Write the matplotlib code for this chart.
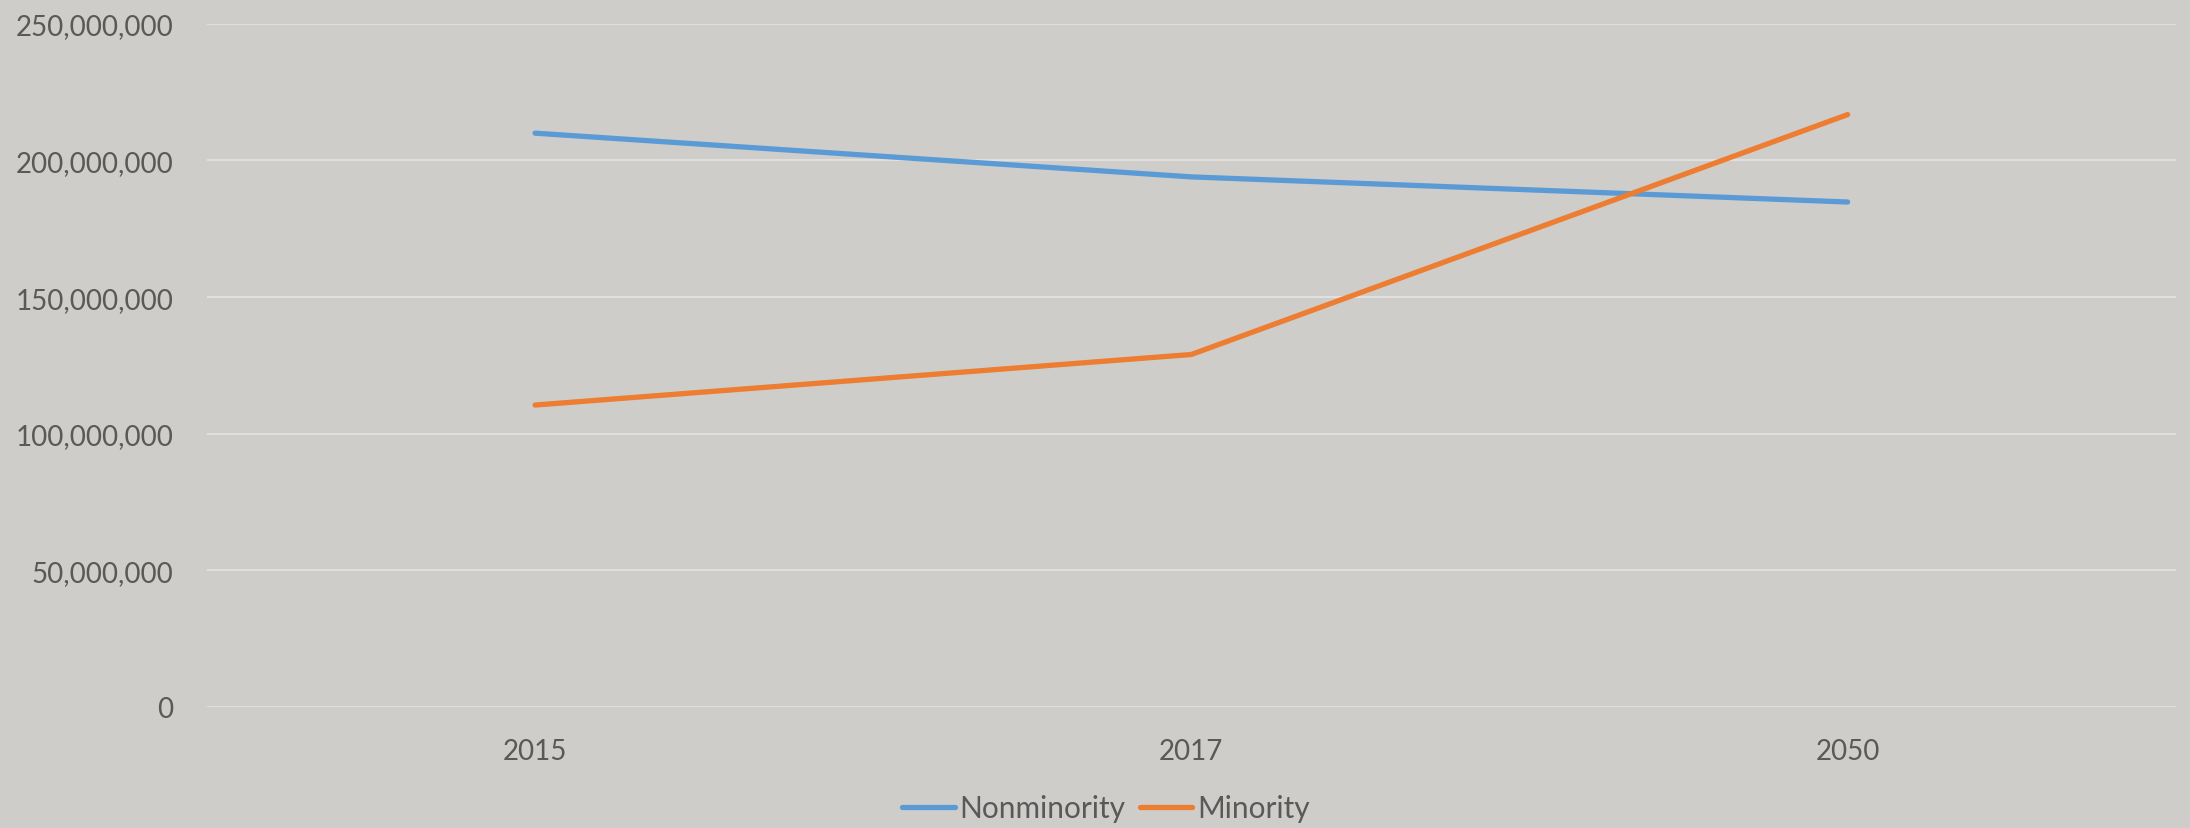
import matplotlib.pyplot as plt
from matplotlib.ticker import FuncFormatter

years = ['2015', '2017', '2050']
nonminority = [210_000_000, 194_000_000, 184_800_000]
minority = [110_500_000, 129_000_000, 216_800_000]

bg = '#cfcdca'
txt = '#595959'

plt.rcParams['font.family'] = ['Lato', 'DejaVu Sans']

fig = plt.figure(figsize=(21.9, 8.29), dpi=100, facecolor=bg)
ax = fig.add_axes([0.0945, 0.146, 0.899, 0.824])
ax.set_facecolor('none')

x = range(len(years))
ax.plot(x, nonminority, color='#5b9bd5', linewidth=3.8, solid_capstyle='round', label='Nonminority')
ax.plot(x, minority, color='#ed7d31', linewidth=3.8, solid_capstyle='round', label='Minority')

ax.set_xlim(-0.5, 2.5)
ax.set_ylim(0, 250_000_000)
ax.set_xticks(list(x))
ax.set_xticklabels(years)
ax.set_yticks(range(0, 250_000_001, 50_000_000))
ax.yaxis.set_major_formatter(FuncFormatter(lambda v, p: f'{int(v):,}'))

ax.grid(axis='y', color='#e2e0de', linewidth=1.5)
ax.set_axisbelow(True)
for s in ax.spines.values():
    s.set_visible(False)
ax.tick_params(axis='both', length=0, labelsize=20, labelcolor=txt)
ax.tick_params(axis='y', pad=24)
ax.tick_params(axis='x', pad=22)

fig.legend(loc='center', bbox_to_anchor=(0.505, 0.024), ncol=2, frameon=False,
           fontsize=21.5, labelcolor=txt, handlelength=1.75, handletextpad=0.15,
           columnspacing=0.5)

fig.savefig('out.png', dpi=100, facecolor=bg)
